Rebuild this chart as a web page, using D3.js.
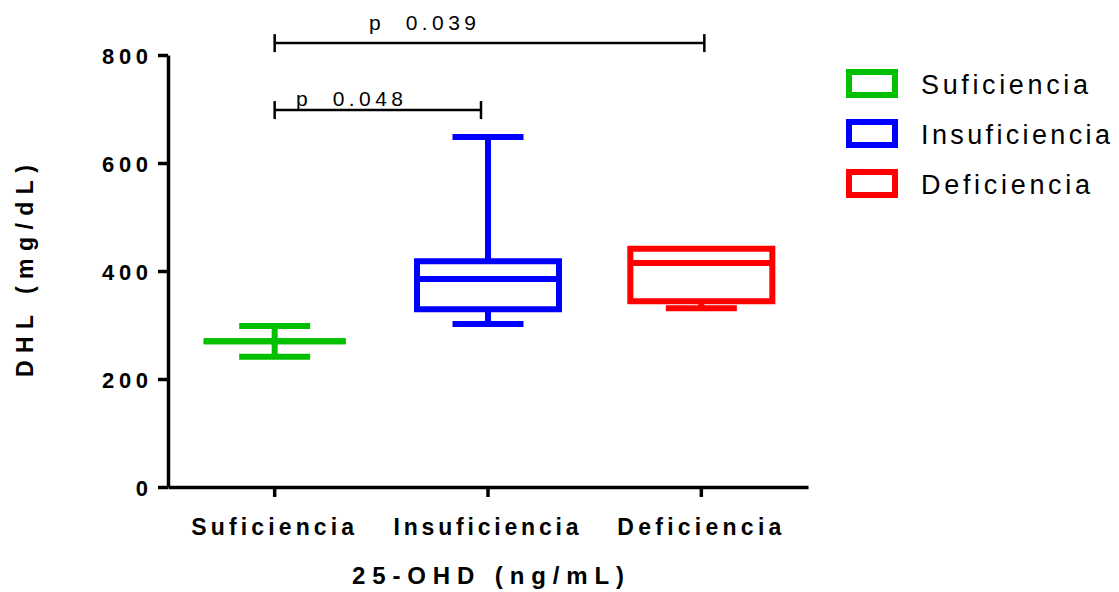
<!DOCTYPE html>
<html>
<head>
<meta charset="utf-8" />
<title>DHL box plot</title>
<script src="https://d3js.org/d3.v7.min.js"></script>
<style>
  body { margin: 0; background: #fff; }
  text { font-family: "Liberation Sans", Arial, sans-serif; fill: #000; }
</style>
</head>
<body>
<div id="chart"></div>
<script>
// groups and box statistics (DHL, mg/dL)
const categories = ['Suficiencia', 'Insuficiencia', 'Deficiencia'];
const mins = [241, 302, 331];
const q1s = [270, 329, 344];
const medians = [270, 385, 415];
const q3s = [270, 418, 441];
const maxs = [298, 648, 441];
const colors = ['#00c000', '#0000ff', '#ff0000'];

const yTicks = [0, 200, 400, 600, 800];

// significance brackets
const bracketFrom = ['Suficiencia', 'Suficiencia'];
const bracketTo = ['Deficiencia', 'Insuficiencia'];
const bracketLevel = [822, 698];
const bracketLabels = ['p  0.039', 'p  0.048'];

// dimensions
const width = 1119;
const height = 592;

const svg = d3.select('#chart')
  .append('svg')
  .attr('width', width)
  .attr('height', height);

const x = d3.scaleBand()
  .domain(categories)
  .range([168, 808])
  .padding(0);

const y = d3.scaleLinear()
  .domain([0, 800])
  .range([487, 55]);

const boxW = 142;
const capW = 71;
const lw = 6;

// y axis
const yAxis = svg.append('g')
  .attr('transform', 'translate(168,0)')
  .call(d3.axisLeft(y).tickValues(yTicks).tickSize(10).tickSizeOuter(0).tickFormat(d3.format('d')));
yAxis.select('.domain').attr('stroke', '#000').attr('stroke-width', 3.5);
yAxis.selectAll('.tick line').attr('stroke', '#000').attr('stroke-width', 3.5);
yAxis.selectAll('.tick text').remove();
yAxis.selectAll('.tick').append('text')
  .attr('x', -20)
  .attr('y', 8)
  .attr('text-anchor', 'end')
  .style('font-size', '22px')
  .style('font-weight', 'bold')
  .attr('textLength', d => String(d).length === 1 ? null : 46)
  .attr('lengthAdjust', 'spacing')
  .text(d => d);

// x axis
const xAxis = svg.append('g')
  .attr('transform', 'translate(0,487)')
  .call(d3.axisBottom(x).tickSize(10).tickSizeOuter(0));
xAxis.select('.domain').attr('stroke', '#000').attr('stroke-width', 3.5);
xAxis.selectAll('.tick line').attr('stroke', '#000').attr('stroke-width', 3.5);
xAxis.selectAll('.tick text').remove();
const xLabelLen = { Suficiencia: 163, Insuficiencia: 185, Deficiencia: 164 };
xAxis.selectAll('.tick').append('text')
  .attr('y', 48)
  .attr('x', -2)
  .attr('text-anchor', 'middle')
  .style('font-size', '23px')
  .style('font-weight', 'bold')
  .attr('textLength', d => xLabelLen[d])
  .attr('lengthAdjust', 'spacing')
  .text(d => d);

// axis titles
svg.append('text')
  .attr('x', 488)
  .attr('y', 584)
  .attr('text-anchor', 'middle')
  .style('font-size', '24px')
  .style('font-weight', 'bold')
  .attr('textLength', 272)
  .attr('lengthAdjust', 'spacing')
  .text('25-OHD (ng/mL)');

svg.append('text')
  .attr('transform', 'translate(33,271) rotate(-90)')
  .attr('text-anchor', 'middle')
  .style('font-size', '23px')
  .style('font-weight', 'bold')
  .attr('textLength', 212)
  .attr('lengthAdjust', 'spacing')
  .text('DHL (mg/dL)');

// boxes
const boxes = svg.selectAll('g.box')
  .data(categories)
  .enter()
  .append('g')
  .attr('class', 'box')
  .attr('stroke', (d, i) => colors[i])
  .attr('stroke-width', lw)
  .attr('fill', 'none');

boxes.each(function (d, i) {
  const g = d3.select(this);
  const cx = x(d) + x.bandwidth() / 2;
  // whiskers
  if (maxs[i] > q3s[i]) {
    g.append('line').attr('x1', cx).attr('x2', cx).attr('y1', y(q3s[i])).attr('y2', y(maxs[i]));
    g.append('line').attr('x1', cx - capW / 2).attr('x2', cx + capW / 2).attr('y1', y(maxs[i])).attr('y2', y(maxs[i]));
  }
  if (mins[i] < q1s[i]) {
    g.append('line').attr('x1', cx).attr('x2', cx).attr('y1', y(q1s[i])).attr('y2', y(mins[i]));
    g.append('line').attr('x1', cx - capW / 2).attr('x2', cx + capW / 2).attr('y1', y(mins[i])).attr('y2', y(mins[i]));
  }
  // box
  const x0 = cx - boxW / 2, x1 = cx + boxW / 2;
  g.append('path')
    .attr('d', `M${x0},${y(q3s[i])}H${x1}V${y(q1s[i])}H${x0}Z`)
    .attr('stroke-linejoin', 'miter');
  // median
  g.append('line').attr('x1', x0).attr('x2', x1).attr('y1', y(medians[i])).attr('y2', y(medians[i]));
});

// significance brackets
const bracketEndShift = [3, -7];
const brackets = svg.selectAll('g.bracket')
  .data(bracketLabels)
  .enter()
  .append('g')
  .attr('class', 'bracket')
  .attr('stroke', '#000')
  .attr('stroke-width', 2.5);

brackets.each(function (d, i) {
  const g = d3.select(this);
  const xa = x(bracketFrom[i]) + x.bandwidth() / 2;
  const xb = x(bracketTo[i]) + x.bandwidth() / 2 + bracketEndShift[i];
  const yy = y(bracketLevel[i]);
  g.append('line').attr('x1', xa).attr('x2', xb).attr('y1', yy).attr('y2', yy);
  g.append('line').attr('x1', xa).attr('x2', xa).attr('y1', yy - 9).attr('y2', yy + 9);
  g.append('line').attr('x1', xb).attr('x2', xb).attr('y1', yy - 9).attr('y2', yy + 9);
});

const pTextX = [369, 296];
const pTextY = [30, 106];
svg.selectAll('text.pval')
  .data(bracketLabels)
  .enter()
  .append('text')
  .attr('class', 'pval')
  .attr('x', (d, i) => pTextX[i])
  .attr('y', (d, i) => pTextY[i])
  .style('font-size', '21px')
  .attr('textLength', 107)
  .attr('lengthAdjust', 'spacing')
  .style('white-space', 'pre')
  .text(d => d);

// legend
const legendLen = [167, 189, 169];
const legend = svg.selectAll('g.legend')
  .data(categories)
  .enter()
  .append('g')
  .attr('class', 'legend')
  .attr('transform', (d, i) => `translate(849,${72 + i * 50})`);

legend.append('rect')
  .attr('width', 46)
  .attr('height', 23)
  .attr('fill', 'none')
  .attr('stroke', (d, i) => colors[i])
  .attr('stroke-width', lw);

legend.append('text')
  .attr('x', 72)
  .attr('y', 22)
  .style('font-size', '27px')
  .attr('textLength', (d, i) => legendLen[i])
  .attr('lengthAdjust', 'spacing')
  .text(d => d);
</script>
</body>
</html>
